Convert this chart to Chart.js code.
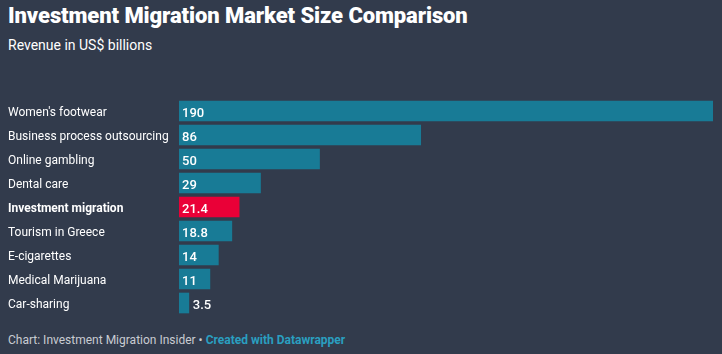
<!DOCTYPE html>
<html><head><meta charset="utf-8">
<script src="https://cdn.jsdelivr.net/npm/chart.js@4"></script>
<style>
html,body{margin:0;padding:0;background:#323b4c;width:722px;height:354px;overflow:hidden;font-family:Roboto,"Noto Sans",sans-serif;}
#title{position:absolute;left:8px;top:3px;color:#fff;font-weight:900;font-size:22px;letter-spacing:-0.1px;white-space:nowrap;}
#sub{position:absolute;left:8px;top:37px;color:#fff;font-size:14px;white-space:nowrap;}
#foot{position:absolute;left:8px;top:333px;color:#c9ccd2;font-size:12px;white-space:nowrap;}
#foot b{color:#2a9fc0;font-weight:700;}
#wrap{position:absolute;left:0;top:0;width:722px;height:354px;}
</style></head><body>
<div id="title">Investment Migration Market Size Comparison</div>
<div id="sub">Revenue in US$ billions</div>
<div id="foot">Chart: Investment Migration Insider • <b>Created with Datawrapper</b></div>
<div id="wrap"><canvas id="c" width="722" height="354"></canvas></div>
<script>
const categories = ["Women's footwear","Business process outsourcing","Online gambling","Dental care","Investment migration","Tourism in Greece","E-cigarettes","Medical Marijuana","Car-sharing"];
const revenue = [190, 86, 50, 29, 21.4, 18.8, 14, 11, 3.5];
const valueLabels = ["190","86","50","29","21.4","18.8","14","11","3.5"];
const highlight = "Investment migration";

const TEAL = "#187b96", RED = "#ea0037";
const barColors = categories.map(c => c === highlight ? RED : TEAL);

const labelPlugin = {
  id: 'labels',
  afterDatasetsDraw(chart) {
    const ctx = chart.ctx;
    const meta = chart.getDatasetMeta(0);
    const yScale = chart.scales.y;
    ctx.save();
    ctx.textBaseline = "middle";
    ctx.fillStyle = "#ffffff";
    // category labels
    categories.forEach((c, i) => {
      ctx.font = (c === highlight ? "bold " : "") + "12px Roboto";
      ctx.textAlign = "left";
      ctx.fillText(c, yScale.left, yScale.getPixelForValue(i) + 1.5);
    });
    // value labels
    ctx.font = "500 13px Roboto";
    meta.data.forEach((bar, i) => {
      const t = valueLabels[i];
      const w = ctx.measureText(t).width;
      const bw = bar.x - bar.base;
      let x = bar.base + 3;
      if (w + 6 > bw) x = bar.x + 4;
      ctx.fillText(t, x, bar.y + 2.5);
    });
    ctx.restore();
  }
};

new Chart(document.getElementById('c'), {
  type: 'bar',
  data: {
    labels: categories,
    datasets: [{
      data: revenue,
      backgroundColor: barColors,
      barThickness: 20,
      borderWidth: 0
    }]
  },
  options: {
    indexAxis: 'y',
    responsive: false,
    animation: false,
    events: [],
    layout: { padding: { left: 8, right: 9, top: 99, bottom: 39 } },
    plugins: { legend: { display: false }, tooltip: { enabled: false } },
    scales: {
      x: { display: false, min: 0, max: 190 },
      y: {
        grid: { display: false, drawTicks: false },
        border: { display: false },
        afterFit(scale) { scale.width = 171; },
        ticks: { display: false }
      }
    }
  },
  plugins: [labelPlugin]
});
</script>
</body></html>
